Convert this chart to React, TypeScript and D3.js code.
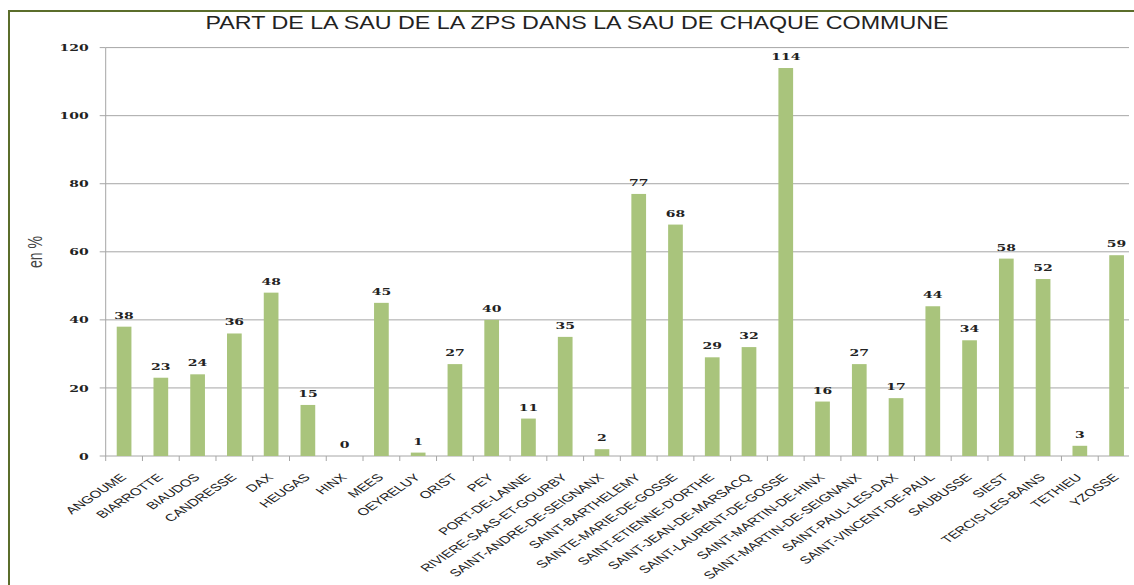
import React from "react";
import * as d3 from "d3";

const categories = [
  "ANGOUME", "BIARROTTE", "BIAUDOS", "CANDRESSE", "DAX", "HEUGAS", "HINX", "MEES",
  "OEYRELUY", "ORIST", "PEY", "PORT-DE-LANNE", "RIVIERE-SAAS-ET-GOURBY",
  "SAINT-ANDRE-DE-SEIGNANX", "SAINT-BARTHELEMY", "SAINTE-MARIE-DE-GOSSE",
  "SAINT-ETIENNE-D'ORTHE", "SAINT-JEAN-DE-MARSACQ", "SAINT-LAURENT-DE-GOSSE",
  "SAINT-MARTIN-DE-HINX", "SAINT-MARTIN-DE-SEIGNANX", "SAINT-PAUL-LES-DAX",
  "SAINT-VINCENT-DE-PAUL", "SAUBUSSE", "SIEST", "TERCIS-LES-BAINS", "TETHIEU", "YZOSSE",
];
const values = [38, 23, 24, 36, 48, 15, 0, 45, 1, 27, 40, 11, 35, 2, 77, 68, 29, 32, 114, 16, 27, 17, 44, 34, 58, 52, 3, 59];
const yTicks = [0, 20, 40, 60, 80, 100, 120];
const title = "PART DE LA SAU DE LA ZPS DANS LA SAU DE CHAQUE COMMUNE";
const yTitle = "en %";

const W = 1134, H = 585;
const left = 105.7, right = 105.7 + 28 * 36.76;
const top = 47.6, bottom = 456;
const SX = 1.4;
const LX = 1.5;

export default function App() {
  const x = d3.scaleBand<string>().domain(categories).range([left, right]).paddingInner(0.6).paddingOuter(0.3);
  const band = d3.scaleBand<string>().domain(categories).range([left, right]).padding(0);
  const y = d3.scaleLinear().domain([0, 120]).range([bottom, top]);
  const barColor = "#a9c47c";
  const grid = "#a6a6a6";
  const numFont = "'DejaVu Serif', serif";
  const sansFont = "'Liberation Sans', Arial, sans-serif";

  return (
    <svg width={W} height={H} style={{ position: "absolute", left: 0, top: 0, background: "#fff" }}>
      <rect x={0} y={0} width={W} height={H} fill="#fff" />
      <rect x={9} y={11} width={W + 20} height={H + 20} fill="none" stroke="#5b6d2b" strokeWidth={2} />
      <text
        x={577}
        y={29}
        textAnchor="middle"
        fontFamily={sansFont}
        fontSize={17.5}
        fill="#222"
        textLength={743}
        lengthAdjust="spacingAndGlyphs"
      >
        {title}
      </text>
      {yTicks.map((t) => (
        <g key={t}>
          <line x1={left} x2={1129} y1={y(t)} y2={y(t)} stroke={grid} strokeWidth={1} />
          <line x1={left - 6} x2={left} y1={y(t)} y2={y(t)} stroke={grid} strokeWidth={1} />
          <text
            transform={`translate(${left - 17},${y(t) + 3.6}) scale(${SX},1)`}
            textAnchor="end"
            fontFamily={numFont}
            fontWeight="bold"
            fontSize={10}
            fill="#222"
          >
            {t}
          </text>
        </g>
      ))}
      <line x1={left} x2={left} y1={top} y2={bottom} stroke={grid} strokeWidth={1} />
      {categories.map((c, i) => (
        <line key={"tk" + i} x1={band(c)!} x2={band(c)!} y1={bottom} y2={bottom + 5} stroke={grid} strokeWidth={1} />
      ))}
      {categories.map((c, i) => (
        <rect key={"b" + i} x={x(c)!} y={y(values[i])} width={x.bandwidth()} height={bottom - y(values[i])} fill={barColor} />
      ))}
      {categories.map((c, i) => (
        <text
          key={"v" + i}
          transform={`translate(${x(c)! + x.bandwidth() / 2},${y(values[i]) - 8}) scale(${SX},1)`}
          textAnchor="middle"
          fontFamily={numFont}
          fontWeight="bold"
          fontSize={10}
          fill="#222"
        >
          {values[i]}
        </text>
      ))}
      {categories.map((c, i) => {
        const cx = band(c)! + band.bandwidth() / 2;
        return (
          <text
            key={"l" + i}
            transform={`translate(${cx + 3},${478}) scale(${LX},1) rotate(-45)`}
            textAnchor="end"
            fontFamily={sansFont}
            fontSize={10.1}
            fill="#222"
          >
            {c}
          </text>
        );
      })}
      <text
        transform={`translate(42,252) scale(${SX},1) rotate(-90)`}
        textAnchor="middle"
        fontFamily={sansFont}
        fontSize={14}
        fill="#444"
      >
        {yTitle}
      </text>
    </svg>
  );
}
